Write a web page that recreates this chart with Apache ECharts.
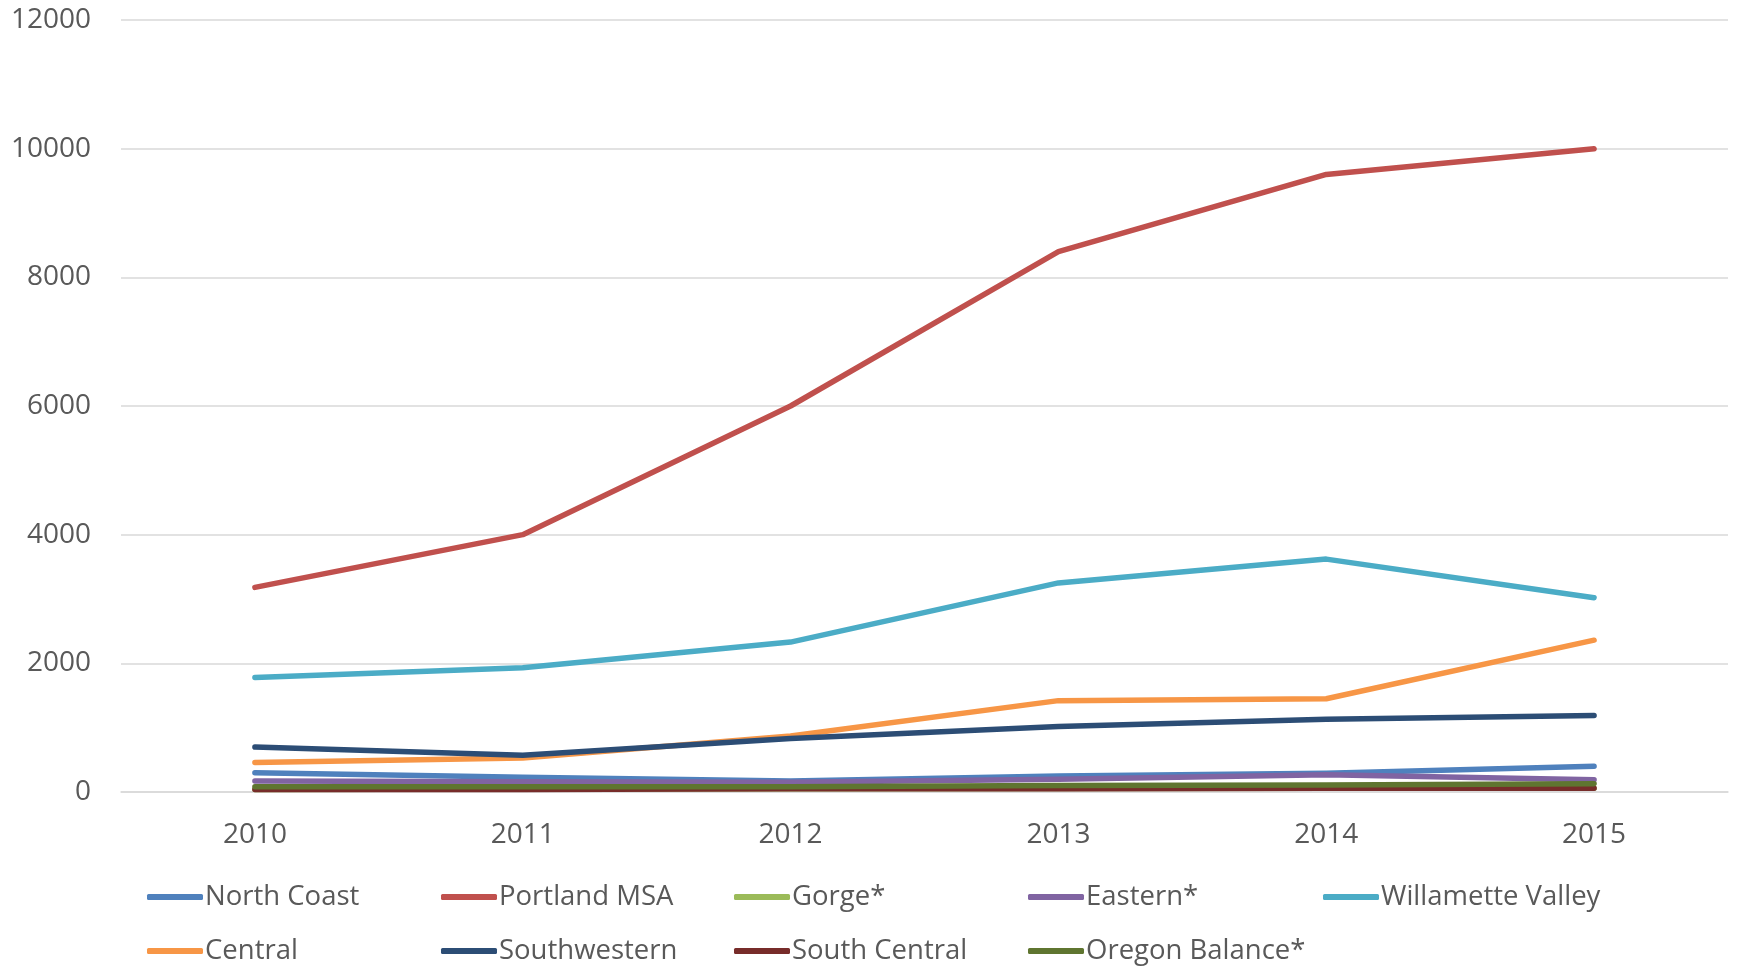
<!DOCTYPE html>
<html>
<head>
<meta charset="utf-8">
<script src="https://cdn.jsdelivr.net/npm/echarts@6/dist/echarts.min.js"></script>
<style>
  html, body { margin: 0; padding: 0; background: #fff; }
  #chart { width: 1737px; height: 967px; }
</style>
</head>
<body>
<div id="chart"></div>
<script>
const years = ["2010", "2011", "2012", "2013", "2014", "2015"];

const northCoast = [300, 230, 170, 250, 290, 400];
const portland = [3180, 4000, 6000, 8400, 9600, 10000];
const gorge = [40, 45, 50, 55, 60, 60];
const eastern = [170, 160, 150, 200, 270, 190];
const willamette = [1780, 1930, 2330, 3250, 3620, 3020];
const central = [460, 530, 870, 1420, 1450, 2360];
const southwestern = [700, 570, 830, 1020, 1130, 1190];
const southCentral = [40, 40, 50, 50, 60, 60];
const oregonBalance = [80, 80, 80, 100, 110, 130];

const seriesList = [
  { name: "North Coast", data: northCoast, color: "#4f81bd" },
  { name: "Portland MSA", data: portland, color: "#c0504d" },
  { name: "Gorge*", data: gorge, color: "#9bbb59" },
  { name: "Eastern*", data: eastern, color: "#8064a2" },
  { name: "Willamette Valley", data: willamette, color: "#4bacc6" },
  { name: "Central", data: central, color: "#f79646" },
  { name: "Southwestern", data: southwestern, color: "#2c4d75" },
  { name: "South Central", data: southCentral, color: "#772c2a" },
  { name: "Oregon Balance*", data: oregonBalance, color: "#5f7530" },
];

const font = "'Open Sans', sans-serif";
const legendLeft = [147, 441, 734, 1028, 1323];
const legendTop = [882, 936];

const chart = echarts.init(document.getElementById("chart"));

const legends = seriesList.map((s, i) => ({
  data: [{ name: s.name, icon: "roundRect" }],
  left: legendLeft[i % 5],
  top: legendTop[Math.floor(i / 5)],
  itemWidth: 56,
  itemHeight: 6,
  padding: 0,
  selectedMode: false,
  textStyle: { fontFamily: font, fontSize: 27.5, color: "#595959", lineHeight: 30, padding: [0, 0, 0, -3] },
}));

const option = {
  animation: false,
  legend: legends,
  grid: { left: 121, right: 9, top: 20, bottom: 175 },
  xAxis: {
    type: "category",
    data: years,
    boundaryGap: true,
    axisLine: { lineStyle: { color: "#d9d9d9", width: 1.5 } },
    axisTick: { show: false },
    axisLabel: { fontFamily: font, fontSize: 28, color: "#595959", margin: 29 },
  },
  yAxis: {
    type: "value",
    min: 0,
    max: 12000,
    interval: 2000,
    axisLine: { show: false },
    axisTick: { show: false },
    splitLine: { lineStyle: { color: "#d9d9d9", width: 1.5 } },
    axisLabel: { fontFamily: font, fontSize: 28, color: "#595959", margin: 30, formatter: (v) => String(v) },
  },
  series: seriesList.map((s) => ({
    name: s.name,
    type: "line",
    data: s.data,
    symbol: "none",
    color: s.color,
    lineStyle: { color: s.color, width: 5.5, cap: "round", join: "round" },
  })),
};

chart.setOption(option);
</script>
</body>
</html>
